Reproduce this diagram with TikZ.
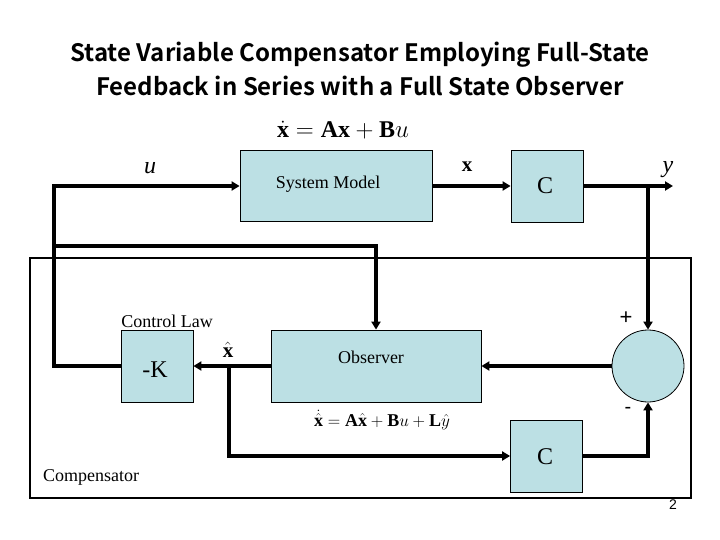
\documentclass[tikz,border=0pt]{standalone}
\usepackage{fontspec}
\setmainfont{Liberation Serif}
\newfontfamily\titlefont{Noto Sans CJK JP Bold}
\newfontfamily\numfont{Liberation Sans}
\usetikzlibrary{arrows.meta}
\definecolor{boxblue}{RGB}{188,224,228}
\begin{document}
\begin{tikzpicture}[x=1pt,y=-1pt,
  blkbox/.style={draw=black, line width=0.8pt, fill=boxblue, inner sep=0pt},
  sig/.style={line width=4pt, line join=miter},
  arr/.style={sig, -{Triangle[length=8pt,width=9pt]}},
  lbl/.style={font=\fontsize{18}{20}\selectfont, inner sep=0pt},
  big/.style={font=\fontsize{24}{26}\selectfont, inner sep=0pt}
]
\useasboundingbox (0,0) rectangle (720,540);
% title
\node[font=\titlefont\fontsize{24}{34}\selectfont, align=center, inner sep=0pt] (title) at (360,69)
  {State Variable Compensator Employing Full-State\\Feedback in Series with a Full State Observer};
% frame
\draw[line width=1.3pt] (30,258) rectangle (691,498);
% blocks
\node[blkbox, minimum width=192pt, minimum height=71pt] (sys) at (336,186) {};
\node[lbl] (syst) at (328,184) {System Model};
\node[blkbox, minimum width=72pt, minimum height=72pt] (c1) at (547,186) {};
\node[big] (c1t) at (545,186) {C};
\node[blkbox, minimum width=210pt, minimum height=72pt] (obs) at (376,366) {};
\node[lbl] (obst) at (371,357) {Observer};
\node[blkbox, minimum width=72pt, minimum height=72pt] (k) at (157,366) {};
\node[big] (kt) at (155,370) {-K};
\node[blkbox, circle, minimum size=72pt] (sum) at (648,366) {};
\node[blkbox, minimum width=72pt, minimum height=72pt] (c2) at (546.5,456) {};
\node[big] (c2t) at (545,457) {C};
% coordinates
\coordinate (uc) at (54,366);
\coordinate (uj) at (54,246);
\coordinate (yj) at (648,186);
\coordinate (yend) at (673,186);
\coordinate (xj) at (229,366);
% connectors
\draw[arr] (k.west) -- (uc) |- (sys.west);
\draw[arr] (uj) -| (obs.north);
\draw[arr] (sys.east) -- (c1.west);
\draw[arr] (c1.east) -- (yend);
\draw[arr] (yj) -- (sum.north);
\draw[arr] (sum.west) -- (obs.east);
\draw[arr] (obs.west) -- (k.east);
\draw[arr] (xj) |- (c2.west);
\draw[arr] (c2.east) -| (sum.south);
% labels
\node[big, font=\fontsize{24}{26}\selectfont\itshape] (ul) at (150,168) {u};
\node[inner sep=0pt, font=\fontsize{21}{22}\selectfont\bfseries] (xl) at (467,167) {x};
\node[big, font=\fontsize{24}{26}\selectfont\itshape] (yl) at (668,170) {y};
\node[inner sep=0pt, font=\numfont\fontsize{22}{22}\selectfont] (plus) at (626,318) {+};
\node[inner sep=0pt, font=\numfont\fontsize{20}{20}\selectfont] (minus) at (628,410) {-};
\node[inner sep=0pt, font=\fontsize{21}{21}\selectfont] (xh) at (228,350) {$\hat{\mathbf{x}}$};
\node[lbl] (cl) at (167,321) {Control Law};
\node[lbl, anchor=west] (comp) at (43,477) {Compensator};
\node[inner sep=0pt, font=\numfont\fontsize{14}{14}\selectfont] (pn) at (673,505) {2};
\node[inner sep=0pt, font=\fontsize{24}{24}\selectfont] (eq1) at (343,130)
  {$\dot{\mathbf{x}} = \mathbf{A}\mathbf{x} + \mathbf{B}u$};
\node[inner sep=0pt, font=\fontsize{18}{18}\selectfont] (eq2) at (382,420)
  {$\dot{\hat{\mathbf{x}}} = \mathbf{A}\hat{\mathbf{x}} + \mathbf{B}u + \mathbf{L}\hat{y}$};
\end{tikzpicture}
\end{document}
